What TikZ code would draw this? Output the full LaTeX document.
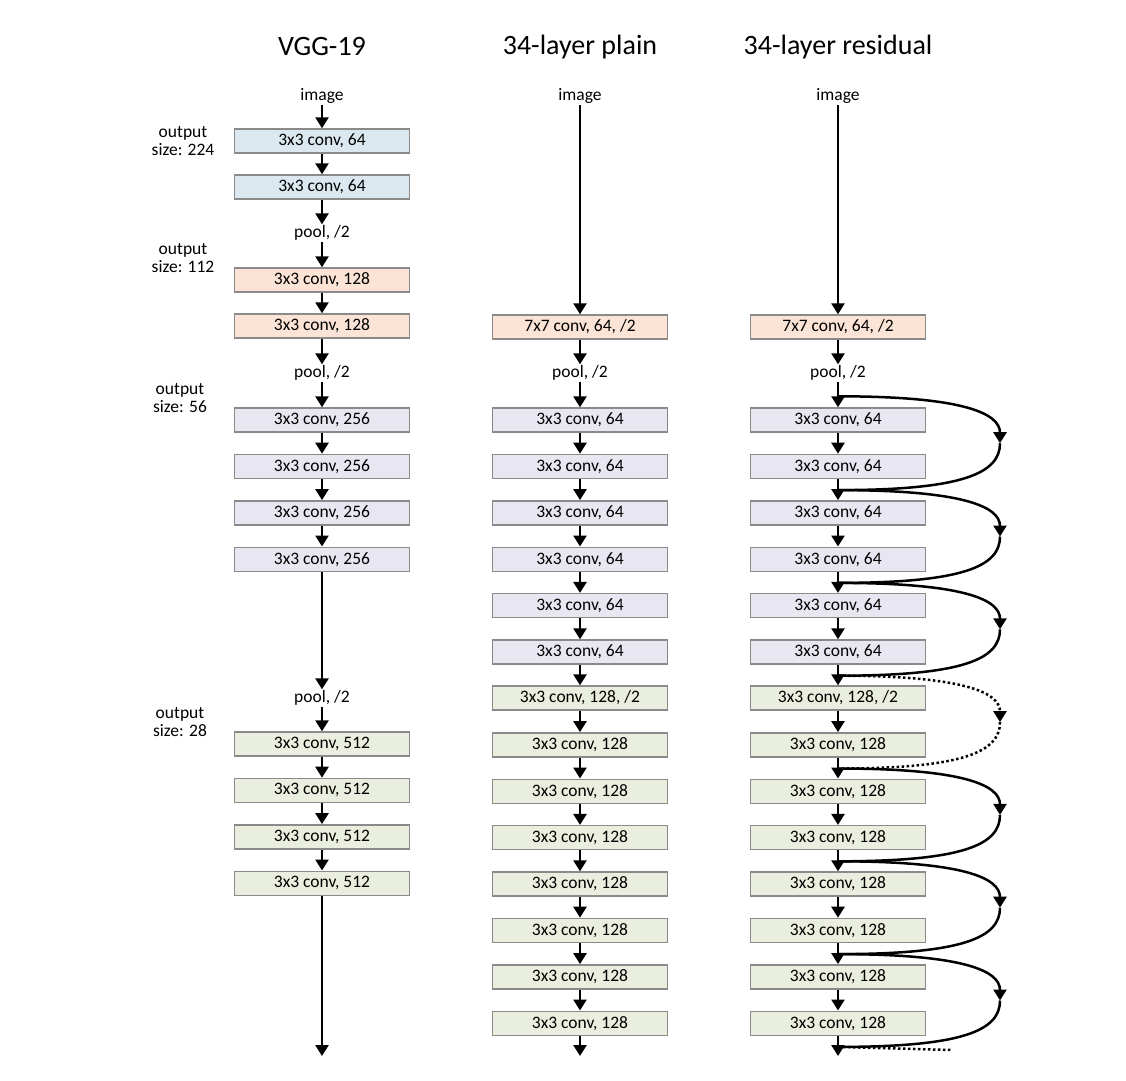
\documentclass[tikz,border=0pt]{standalone}
\usepackage{fontspec}
\setmainfont{Carlito}
\usetikzlibrary{arrows.meta, positioning, calc}
\definecolor{convblue}{HTML}{DCE8F0}
\definecolor{convpeach}{HTML}{FBE4D6}
\definecolor{convlilac}{HTML}{E8E7F1}
\definecolor{convgreen}{HTML}{EAEEDE}
\definecolor{boxline}{HTML}{8A8A8A}

\tikzset{
  layer/.style={draw=boxline, line width=1.4pt, minimum width=175pt,
    minimum height=24pt, inner sep=0pt, font=\fontsize{17.5}{17.5}\selectfont},
  lbl/.style={font=\fontsize{17.5}{17.5}\selectfont, inner sep=1pt},
  heading/.style={font=\fontsize{28}{28}\selectfont},
  flow/.style={line width=2.5pt, -{Triangle[width=13pt,length=11pt]}},
  shortcut/.style={line width=2.5pt},
  midtip/.style={-{Triangle[width=13pt,length=11pt]}},
  dots/.style={dash pattern=on 2.5pt off 2.5pt}
}

\begin{document}
\begin{tikzpicture}[x=1pt, y=-1pt]
  \useasboundingbox (0,0) rectangle (1126,1080);
  % VGG-19
  \begin{scope}[shift={(322,0)}]
    \node[heading] (title-v) at (0,47) {VGG-19};
    \node[lbl] (img-v) at (0,96) {image};
    \node[layer, fill=convblue] (v1) at (0,141) {3x3 conv, 64};
    \node[layer, fill=convblue] (v2) at (0,187) {3x3 conv, 64};
    \node[lbl] (pool1-v) at (0,233) {pool, /2};
    \node[layer, fill=convpeach] (v3) at (0,280) {3x3 conv, 128};
    \node[layer, fill=convpeach] (v4) at (0,326) {3x3 conv, 128};
    \node[lbl] (pool2-v) at (0,373) {pool, /2};
    \foreach \k in {5,...,8}
      \node[layer, fill=convlilac] (v\k) at (0,{420+46.4*(\k-5)}) {3x3 conv, 256};
    \node[lbl] (pool3-v) at (0,698) {pool, /2};
    \foreach \k in {9,...,12}
      \node[layer, fill=convgreen] (v\k) at (0,{744+46.4*(\k-9)}) {3x3 conv, 512};
    \coordinate (end-v) at (0,1056);
    \foreach \a/\b in {img-v/v1, v1/v2, v2/pool1-v, pool1-v/v3, v3/v4, v4/pool2-v,
        pool2-v/v5, v5/v6, v6/v7, v7/v8, v8/pool3-v, pool3-v/v9, v9/v10,
        v10/v11, v11/v12, v12/end-v}
      \draw[flow] (\a) -- (\b);
  \end{scope}
  % output sizes
  \node[lbl, align=center] (size224) at (183,141) {output\\size: 224};
  \node[lbl, align=center] (size112) at (183,258) {output\\size: 112};
  \node[lbl, align=center] (size56) at (180,398) {output\\size: 56};
  \node[lbl, align=center] (size28) at (180,722) {output\\size: 28};
  % 34-layer plain and residual
  \foreach \pre/\x/\name in {p/580/34-layer plain, r/838/34-layer residual} {
    \begin{scope}[shift={(\x,0)}]
      \node[heading] (title-\pre) at (0,47) {\name};
      \node[lbl] (img-\pre) at (0,96) {image};
      \node[layer, fill=convpeach] (\pre0) at (0,327) {7x7 conv, 64, /2};
      \node[lbl] (pool-\pre) at (0,373) {pool, /2};
      \foreach \k in {1,...,6}
        \node[layer, fill=convlilac] (\pre\k) at (0,{420+46.4*(\k-1)}) {3x3 conv, 64};
      \node[layer, fill=convgreen] (\pre7) at (0,698) {3x3 conv, 128, /2};
      \foreach \k in {8,...,14}
        \node[layer, fill=convgreen] (\pre\k) at (0,{420+46.4*(\k-1)}) {3x3 conv, 128};
      \coordinate (end-\pre) at (0,1056);
      \draw[flow] (img-\pre) -- (\pre0);
      \draw[flow] (\pre0) -- (pool-\pre);
      \draw[flow] (pool-\pre) -- (\pre1);
      \foreach \k [count=\n from 2] in {1,...,13}
        \draw[flow] (\pre\k) -- (\pre\n);
      \draw[flow] (\pre14) -- (end-\pre);
    \end{scope}
  }
  % shortcuts
  \coordinate (rj0) at ($(r1.north)+(0,-11)$);
  \foreach \k [count=\n from 1] in {2,4,...,14}
    \coordinate (rj\n) at ($(r\k.south)+(0,11)$);
  \foreach \a/\b/\look in {0/1/solid, 1/2/solid, 2/3/solid, 3/4/dots,
      4/5/solid, 5/6/solid, 6/7/solid} {
    \coordinate (rm\a) at ($(rj\a)!0.5!(rj\b)+(162,0)$);
    \draw[shortcut, midtip, \look] (rj\a) .. controls +(125,0) and +(0,-30) .. (rm\a);
    \draw[shortcut, \look] (rm\a) .. controls +(0,30) and +(125,0) .. (rj\b);
  }
  \coordinate (tail-r) at (952,1050);
  \draw[shortcut, dots] (rj7) -- (tail-r);
\end{tikzpicture}
\end{document}
